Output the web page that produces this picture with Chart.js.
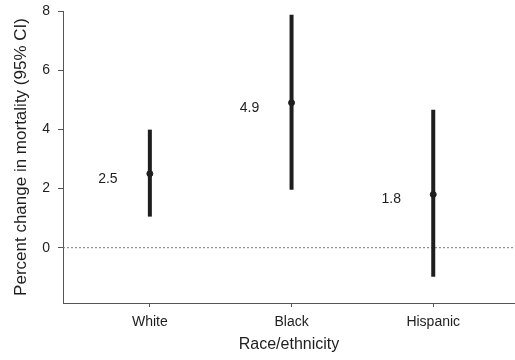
<!DOCTYPE html>
<html>
<head>
<meta charset="utf-8">
<script src="https://cdn.jsdelivr.net/npm/chart.js@4"></script>
<style>
html, body { margin: 0; padding: 0; background: #fff; }
</style>
</head>
<body>
<canvas id="ciChart" width="515" height="360"></canvas>
<script>
// values
const groups = ['White', 'Black', 'Hispanic'];
const estimates = [2.5, 4.9, 1.8];
const lowerCI = [1.05, 1.96, -0.98];
const upperCI = [3.99, 7.87, 4.66];
const yTicks = [0, 2, 4, 6, 8];

const xMin = -0.613, xMax = 2.577;
const ink = '#1e1e1e';
const axisGray = '#555';
const fontFamily = '"Liberation Sans", Arial, sans-serif';

const ciDatasets = groups.map((g, i) => ({
    type: 'line',
    label: g + ' CI',
    data: [{ x: i, y: lowerCI[i] }, { x: i, y: upperCI[i] }],
    borderColor: ink,
    borderWidth: 4,
    borderCapStyle: 'butt',
    pointRadius: 0,
    order: 1,
}));

const valueLabels = {
    id: 'valueLabels',
    afterDatasetsDraw(chart) {
        const { ctx, scales: { x, y } } = chart;
        ctx.save();
        ctx.fillStyle = ink;
        ctx.font = '14px ' + fontFamily;
        ctx.textAlign = 'center';
        ctx.textBaseline = 'middle';
        estimates.forEach((v, i) => {
            ctx.fillText(v.toFixed(1), x.getPixelForValue(i) - 42, y.getPixelForValue(v) + 5);
        });
        ctx.restore();
    }
};

const ciChart = new Chart(document.getElementById('ciChart'), {
    type: 'scatter',
    data: {
        datasets: [
            {
                label: 'Estimate',
                data: estimates.map((v, i) => ({ x: i, y: v })),
                backgroundColor: ink,
                borderColor: ink,
                pointRadius: 3,
                order: 0,
            },
            ...ciDatasets,
            {
                type: 'line',
                label: 'zero',
                data: [{ x: xMin, y: 0 }, { x: xMax, y: 0 }],
                borderColor: '#777',
                borderWidth: 1,
                borderDash: [2, 2],
                pointRadius: 0,
                order: 2,
            },
        ]
    },
    options: {
        responsive: false,
        animation: false,
        layout: { autoPadding: false, padding: { top: 11, right: 0, bottom: 0, left: 0 } },
        plugins: {
            legend: { display: false },
            tooltip: { enabled: false },
        },
        scales: {
            x: {
                type: 'linear',
                min: xMin,
                max: xMax,
                afterBuildTicks: s => { s.ticks = groups.map((g, i) => ({ value: i })); },
                afterFit: s => { s.height = 57; s.paddingLeft = 0; s.paddingRight = 0; },
                ticks: {
                    callback: v => groups[v],
                    color: ink,
                    font: { family: fontFamily, size: 14 },
                    padding: 7,
                    maxRotation: 0,
                },
                grid: { drawOnChartArea: false, tickLength: 4, color: axisGray },
                border: { color: axisGray, width: 1 },
                title: {
                    display: true,
                    text: 'Race/ethnicity',
                    color: ink,
                    font: { family: fontFamily, size: 16 },
                    padding: { top: 0, bottom: 6 },
                },
            },
            y: {
                min: -1.87,
                max: 8,
                afterBuildTicks: s => { s.ticks = yTicks.map(v => ({ value: v })); },
                afterFit: s => { s.width = 63; s.paddingTop = 0; s.paddingBottom = 0; },
                ticks: {
                    color: ink,
                    font: { family: fontFamily, size: 14 },
                    padding: 8,
                },
                grid: { drawOnChartArea: false, tickLength: 5, color: axisGray },
                border: { color: axisGray, width: 1 },
                title: {
                    display: true,
                    text: 'Percent change in mortality (95% CI)',
                    color: ink,
                    font: { family: fontFamily, size: 17 },
                    padding: { top: 11, bottom: 0 },
                },
            },
        },
    },
    plugins: [valueLabels],
});
</script>
</body>
</html>
